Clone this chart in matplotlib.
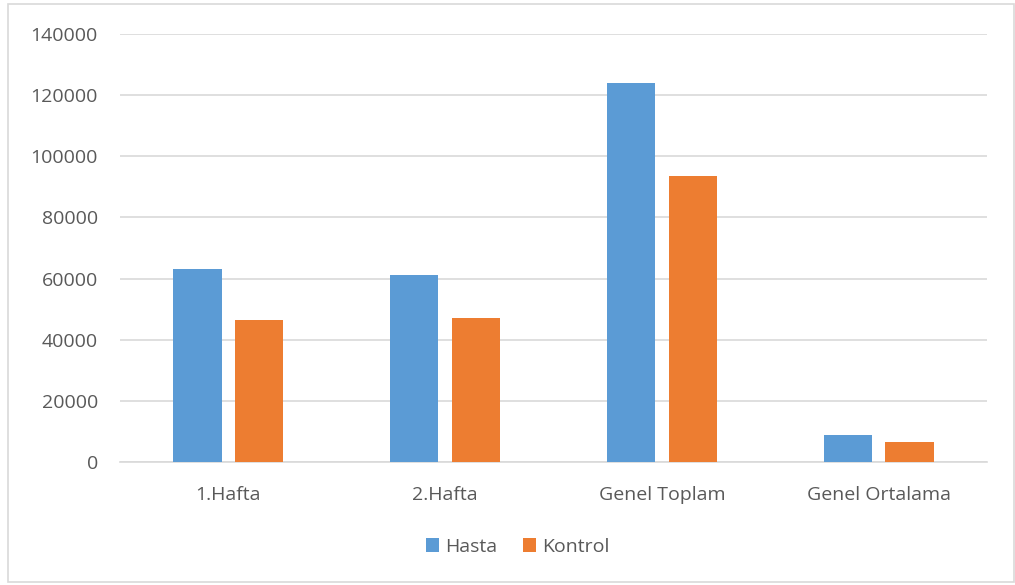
import matplotlib.pyplot as plt
import numpy as np

# weekly totals per group
categories = ["1.Hafta", "2.Hafta", "Genel Toplam", "Genel Ortalama"]
hasta = [63000, 61000, 124000, 8800]
kontrol = [46500, 47000, 93400, 6500]
yticks = [0, 20000, 40000, 60000, 80000, 100000, 120000, 140000]

plt.rcParams['font.family'] = ['Open Sans', 'DejaVu Sans']

fig = plt.figure(figsize=(10.15, 5.85), dpi=100)
ax = fig.add_axes([0.1182, 0.2103, 0.8542, 0.7316])

x = np.arange(len(categories))
w = 0.222
off = 0.1425
ax.bar(x - off, hasta, w, color="#5B9BD5", label="Hasta", zorder=3)
ax.bar(x + off, kontrol, w, color="#ED7D31", label="Kontrol", zorder=3)

ax.set_xlim(-0.5, len(categories) - 0.5)
ax.set_ylim(0, 140000)
ax.set_yticks(yticks)
ax.set_yticklabels([str(v) for v in yticks])
ax.set_xticks(x)
ax.set_xticklabels(categories)

ax.grid(axis="y", color="#d9d9d9", linewidth=1.2, zorder=0)
for s in ["top", "right", "left"]:
    ax.spines[s].set_visible(False)
ax.spines["bottom"].set_color("#d9d9d9")
ax.spines["bottom"].set_linewidth(1.2)
ax.tick_params(axis="both", length=0, labelsize=14, labelcolor="#595959")
ax.tick_params(axis="y", pad=16)
ax.tick_params(axis="x", pad=17)

fig.legend(loc="center", bbox_to_anchor=(0.51, 0.065), ncol=2, frameon=False,
           fontsize=14, labelcolor="#595959", handlelength=0.7, handleheight=0.7,
           handletextpad=0.3, columnspacing=1.3)

# chart border
fig.patches.append(plt.Rectangle((8 / 1015, 3 / 585), 1 - 9 / 1015, 1 - 7 / 585,
                                 transform=fig.transFigure, fill=False,
                                 edgecolor="#d9d9d9", linewidth=1.2))

fig.savefig("out.png", dpi=100)
